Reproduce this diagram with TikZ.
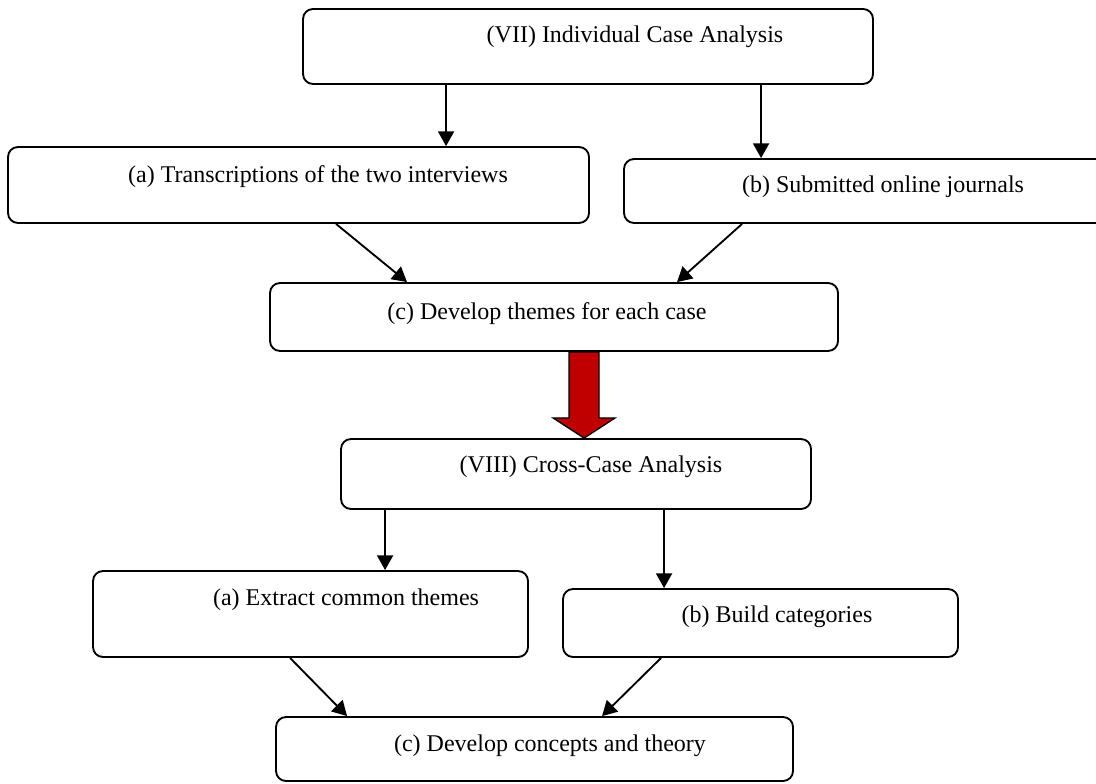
\documentclass[tikz,border=0pt]{standalone}
\usepackage{fontspec}
\setmainfont{Liberation Serif}
\usetikzlibrary{calc,arrows.meta}
\definecolor{arrowred}{HTML}{C00000}
\begin{document}
\begin{tikzpicture}[x=0.75pt,y=-0.75pt,
  box/.style={draw, line width=1.4pt, rounded corners=7.5pt, inner sep=0pt},
  lbl/.style={inner sep=0pt, font=\fontsize{18}{21}\selectfont},
  link/.style={line width=1.4pt, -{Triangle[width=12pt,length=11pt]}},
  bigarrow/.style={fill=arrowred, draw=black, line width=1pt, line join=miter}]
\useasboundingbox (0,0) rectangle (1096,784);

% boxes
\node[box, minimum width=427.5pt, minimum height=56.25pt] (b1)  at (588,46.5) {};
\node[box, minimum width=435.75pt, minimum height=57pt]   (ba)  at (298.5,185) {};
\node[box, minimum width=364.5pt, minimum height=48pt]    (bb)  at (867,191) {};
\node[box, minimum width=426pt, minimum height=51pt]      (bc)  at (554,317) {};
\node[box, minimum width=352.5pt, minimum height=52.5pt]  (b8)  at (576,474) {};
\node[box, minimum width=326.25pt, minimum height=64.5pt] (ba2) at (310.5,614) {};
\node[box, minimum width=296.25pt, minimum height=51pt]   (bb2) at (760.5,623) {};
\node[box, minimum width=387.75pt, minimum height=48pt]   (bc3) at (534.5,749) {};

% labels
\node[lbl] (t1)  at (635,37)  {(VII) Individual Case Analysis};
\node[lbl] (ta)  at (318,177) {(a) Transcriptions of the two interviews};
\node[lbl] (tb)  at (883,187) {(b) Submitted online journals};
\node[lbl] (tc)  at (547,314) {(c) Develop themes for each case};
\node[lbl] (t8)  at (591,467) {(VIII) Cross-Case Analysis};
\node[lbl] (ta2) at (346,600) {(a) Extract common themes};
\node[lbl] (tb2) at (777,617) {(b) Build categories};
\node[lbl] (tc3) at (550,746) {(c) Develop concepts and theory};

% connectors
\draw[link] ($(b1.south west)+(144,0)$) -- ($(ba.north west)+(439,0)$);
\draw[link] ($(b1.south west)+(459,0)$) -- ($(bb.north west)+(138,0)$);
\draw[link] ($(ba.south west)+(329,0)$) -- ($(bc.north west)+(138,0)$);
\draw[link] ($(bb.south west)+(119,0)$) -- ($(bc.north west)+(408,0)$);
\draw[link] ($(b8.south west)+(45,0)$)  -- ($(ba2.north west)+(293,0)$);
\draw[link] ($(b8.south west)+(324,0)$) -- ($(bb2.north west)+(102,0)$);
\draw[link] ($(ba2.south west)+(198,0)$) -- ($(bc3.north west)+(72,0)$);
\draw[link] ($(bb2.south west)+(99,0)$)  -- ($(bc3.north west)+(327,0)$);

% block arrow between the two stages
\coordinate (rt)  at ($(bc.south west)+(315,0)$);
\coordinate (tip) at ($(b8.north west)+(244,0)$);
\draw[bigarrow] ($(rt)+(-15,0)$) -- ($(rt)+(15,0)$) -- ($(rt)+(15,66)$) -- ($(rt)+(31,66)$)
  -- (tip) -- ($(rt)+(-31,66)$) -- ($(rt)+(-15,66)$) -- cycle;
\end{tikzpicture}
\end{document}
